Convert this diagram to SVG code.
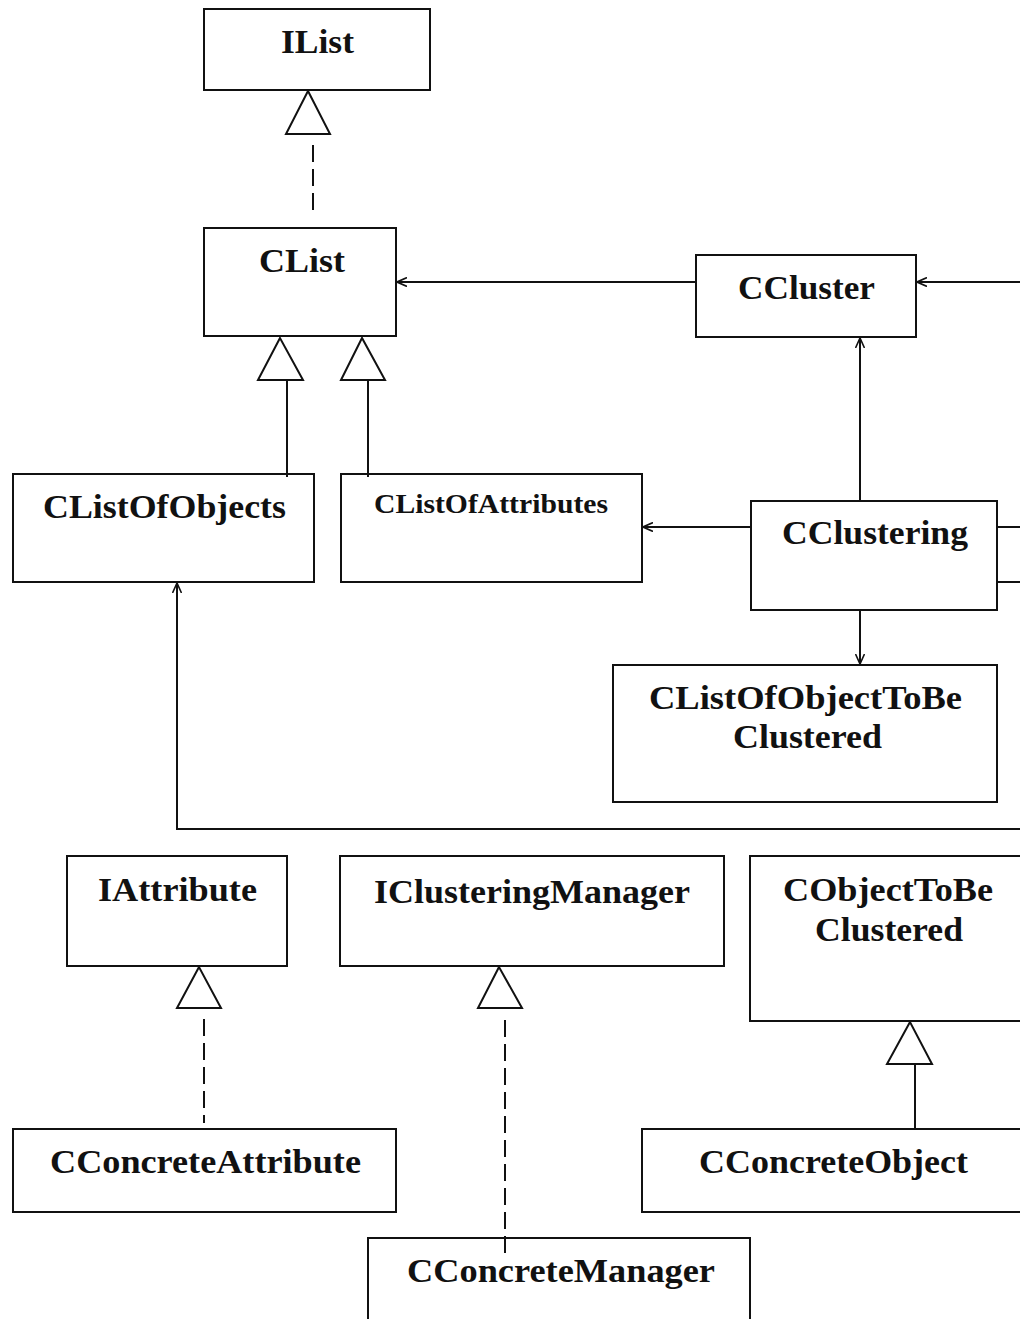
<svg xmlns="http://www.w3.org/2000/svg" width="1020" height="1319" viewBox="0 0 1020 1319">
<style>
.box{fill:#fff;stroke:#111;stroke-width:2}
.t{font-family:"Liberation Serif","Times New Roman",serif;font-weight:bold;font-size:33px;fill:#111}
.ts{font-size:28px}
.ln{fill:none;stroke:#111;stroke-width:2}
.dash{fill:none;stroke:#111;stroke-width:2;stroke-dasharray:17 7}
.tri{fill:#fff;stroke:#111;stroke-width:2}
.arr{fill:none;stroke:#111;stroke-width:2;marker-end:url(#open)}
</style>
<defs>
<marker id="open" viewBox="0 0 10 10" refX="10" refY="5" markerWidth="10" markerHeight="10" markerUnits="userSpaceOnUse" orient="auto">
<path d="M0,0.5 L10,5 L0,9.5" fill="none" stroke="#111" stroke-width="1.6"/>
</marker>
</defs>
<rect width="1020" height="1319" fill="#fff"/>
<g id="IList"><rect class="box" x="204" y="9" width="226" height="81"/><text class="t" x="281" y="53" textLength="73" lengthAdjust="spacingAndGlyphs">IList</text></g>
<g id="CList"><rect class="box" x="204" y="228" width="192" height="108"/><text class="t" x="259" y="272" textLength="86" lengthAdjust="spacingAndGlyphs">CList</text></g>
<g id="CCluster"><rect class="box" x="696" y="255" width="220" height="82"/><text class="t" x="738" y="299" textLength="137" lengthAdjust="spacingAndGlyphs">CCluster</text></g>
<g id="CListOfObjects"><rect class="box" x="13" y="474" width="301" height="108"/><text class="t" x="43" y="518" textLength="243" lengthAdjust="spacingAndGlyphs">CListOfObjects</text></g>
<g id="CListOfAttributes"><rect class="box" x="341" y="474" width="301" height="108"/><text class="t ts" x="374" y="513" textLength="234" lengthAdjust="spacingAndGlyphs">CListOfAttributes</text></g>
<g id="CClustering"><rect class="box" x="751" y="501" width="246" height="109"/><text class="t" x="782" y="544" textLength="186" lengthAdjust="spacingAndGlyphs">CClustering</text></g>
<g id="CListOfObjectToBeClustered"><rect class="box" x="613" y="665" width="384" height="137"/><text class="t" x="649" y="709" textLength="313" lengthAdjust="spacingAndGlyphs">CListOfObjectToBe</text><text class="t" x="733" y="748" textLength="149" lengthAdjust="spacingAndGlyphs">Clustered</text></g>
<g id="IAttribute"><rect class="box" x="67" y="856" width="220" height="110"/><text class="t" x="98" y="901" textLength="159" lengthAdjust="spacingAndGlyphs">IAttribute</text></g>
<g id="IClusteringManager"><rect class="box" x="340" y="856" width="384" height="110"/><text class="t" x="374" y="903" textLength="316" lengthAdjust="spacingAndGlyphs">IClusteringManager</text></g>
<g id="CObjectToBeClustered"><rect class="box" x="750" y="856" width="290" height="165"/><text class="t" x="783" y="901" textLength="210" lengthAdjust="spacingAndGlyphs">CObjectToBe</text><text class="t" x="815" y="941" textLength="148" lengthAdjust="spacingAndGlyphs">Clustered</text></g>
<g id="CConcreteAttribute"><rect class="box" x="13" y="1129" width="383" height="83"/><text class="t" x="50" y="1173" textLength="311" lengthAdjust="spacingAndGlyphs">CConcreteAttribute</text></g>
<g id="CConcreteObject"><rect class="box" x="642" y="1129" width="398" height="83"/><text class="t" x="699" y="1173" textLength="269" lengthAdjust="spacingAndGlyphs">CConcreteObject</text></g>
<g id="CConcreteManager"><rect class="box" x="368" y="1238" width="382" height="100"/><text class="t" x="407" y="1282" textLength="308" lengthAdjust="spacingAndGlyphs">CConcreteManager</text></g>
<g id="connectors">
<polygon class="tri" points="308,91 286,134 330,134"/>
<line class="dash" x1="313" y1="145" x2="313" y2="213"/>
<polygon class="tri" points="280,338 258,380 303,380"/>
<line class="ln" x1="287" y1="380" x2="287" y2="477"/>
<polygon class="tri" points="362,338 341,380 385,380"/>
<line class="ln" x1="368" y1="380" x2="368" y2="477"/>
<line class="arr" x1="696" y1="282" x2="397" y2="282"/>
<line class="arr" x1="1020" y1="282" x2="917" y2="282"/>
<line class="arr" x1="860" y1="501" x2="860" y2="338"/>
<line class="arr" x1="751" y1="527" x2="643" y2="527"/>
<line class="ln" x1="997" y1="527" x2="1020" y2="527"/>
<line class="ln" x1="997" y1="582" x2="1020" y2="582"/>
<line class="arr" x1="860" y1="610" x2="860" y2="664"/>
<path class="arr" d="M1020,829 H177 V583"/>
<polygon class="tri" points="199,967 177,1008 221,1008"/>
<line class="dash" x1="204" y1="1019" x2="204" y2="1123"/>
<polygon class="tri" points="499,967 478,1008 522,1008"/>
<line class="dash" x1="505" y1="1020" x2="505" y2="1260"/>
<polygon class="tri" points="910,1022 887,1064 932,1064"/>
<line class="ln" x1="915" y1="1064" x2="915" y2="1129"/>
</g>
</svg>
